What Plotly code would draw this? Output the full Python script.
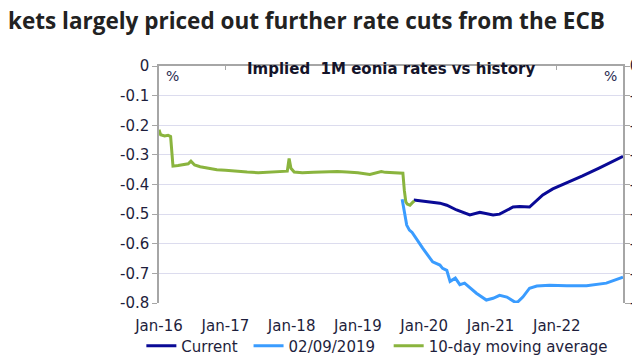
import plotly.graph_objects as go

# ---- data ----
hist_dates = ["2016-01-01", "2016-01-10", "2016-02-01", "2016-02-20", "2016-03-05", "2016-03-12",
              "2016-03-18", "2016-04-15", "2016-05-15", "2016-06-10", "2016-06-25", "2016-07-15",
              "2016-08-15", "2016-10-01", "2016-11-15", "2017-01-01", "2017-03-01", "2017-05-01",
              "2017-07-01", "2017-09-01", "2017-11-01", "2017-12-08", "2017-12-18", "2017-12-28",
              "2018-01-15", "2018-03-01", "2018-05-01", "2018-07-01", "2018-09-10", "2018-11-01",
              "2019-01-01", "2019-03-08", "2019-04-20", "2019-05-10", "2019-06-01", "2019-07-15",
              "2019-09-06", "2019-09-14", "2019-09-22", "2019-09-30", "2019-10-15", "2019-10-27",
              "2019-11-08"]
hist_vals = [-0.215, -0.232, -0.236, -0.234, -0.238, -0.300,
             -0.338, -0.336, -0.334, -0.330, -0.321, -0.334,
             -0.340, -0.346, -0.350, -0.352, -0.356, -0.358,
             -0.360, -0.358, -0.356, -0.355, -0.312, -0.345,
             -0.358, -0.360, -0.359, -0.357, -0.356, -0.358,
             -0.360, -0.366, -0.360, -0.356, -0.359, -0.360,
             -0.362, -0.420, -0.458, -0.466, -0.470, -0.462,
             -0.455]

prev_dates = ["2019-09-02", "2019-09-17", "2019-09-27", "2019-10-12", "2019-10-27", "2019-12-24",
              "2020-02-17", "2020-03-28", "2020-04-12", "2020-05-05", "2020-05-23", "2020-06-21",
              "2020-07-16", "2020-08-11", "2020-10-15", "2020-12-09", "2021-01-15", "2021-02-20",
              "2021-04-01", "2021-05-15", "2021-05-30", "2021-06-28", "2021-08-04", "2021-09-13",
              "2021-11-22", "2022-02-25", "2022-06-14", "2022-10-01", "2023-01-01"]
prev_vals = [-0.450, -0.509, -0.537, -0.554, -0.562, -0.615,
             -0.661, -0.672, -0.683, -0.690, -0.727, -0.716,
             -0.738, -0.733, -0.767, -0.790, -0.784, -0.774,
             -0.780, -0.797, -0.797, -0.780, -0.750, -0.743,
             -0.740, -0.742, -0.742, -0.733, -0.713]

cur_dates = ["2019-11-05", "2020-02-03", "2020-03-28", "2020-05-05", "2020-06-28", "2020-09-09",
             "2020-11-03", "2021-01-15", "2021-02-20", "2021-05-05", "2021-06-10", "2021-08-04",
             "2021-10-16", "2021-12-10", "2022-02-25", "2022-05-23", "2022-08-25", "2023-01-01"]
cur_vals = [-0.452, -0.458, -0.463, -0.470, -0.486, -0.503,
            -0.494, -0.503, -0.500, -0.476, -0.474, -0.476,
            -0.435, -0.415, -0.395, -0.371, -0.344, -0.305]

x_tick_vals = ["2016-01-01", "2017-01-01", "2018-01-01", "2019-01-01", "2020-01-01", "2021-01-01", "2022-01-01"]
x_tick_text = ["Jan-16", "Jan-17", "Jan-18", "Jan-19", "Jan-20", "Jan-21", "Jan-22"]
x_top_ticks = ["2017-01-01", "2018-01-01", "2019-01-01", "2020-01-01", "2021-01-01", "2022-01-01"]
y_tick_vals = [0, -0.1, -0.2, -0.3, -0.4, -0.5, -0.6, -0.7, -0.8]
y_tick_text = ["0", "-0.1", "-0.2", "-0.3", "-0.4", "-0.5", "-0.6", "-0.7", "-0.8"]

headline = "kets largely priced out further rate cuts from the ECB"
chart_title = "Implied  1M eonia rates vs history"

# ---- figure ----
fig = go.Figure()
fig.add_trace(go.Scatter(x=cur_dates, y=cur_vals, mode="lines", name="Current", legend="legend",
                         line=dict(color="#0a0a96", width=3)))
fig.add_trace(go.Scatter(x=prev_dates, y=prev_vals, mode="lines", name="02/09/2019", legend="legend2",
                         line=dict(color="#3a9cff", width=3)))
fig.add_trace(go.Scatter(x=hist_dates, y=hist_vals, mode="lines", name="10-day moving average",
                         legend="legend3", line=dict(color="#8ab43e", width=3)))

axis_col = "#a6a6a6"
tick_font = dict(family="DejaVu Sans", size=15, color="#1e1e3c")
leg_common = dict(orientation="h", y=-0.181, xanchor="left", yanchor="middle",
                  font=dict(family="DejaVu Sans", size=15, color="#1e1e3c"),
                  itemwidth=30, bgcolor="rgba(0,0,0,0)")

fig.update_layout(
    width=640, height=360,
    margin=dict(l=151, r=25, t=58, b=65, autoexpand=False),
    paper_bgcolor="white", plot_bgcolor="white",
    showlegend=True,
    legend=dict(x=-0.038, **leg_common),
    legend2=dict(x=0.193, **leg_common),
    legend3=dict(x=0.495, **leg_common),
    xaxis=dict(type="date", range=["2016-01-01", "2023-01-01"], tickmode="array",
               tickvals=x_tick_vals, ticktext=x_tick_text, showgrid=False, showline=False,
               zeroline=False, ticks="", tickfont=tick_font, ticklabelstandoff=12,
               automargin=False),
    xaxis2=dict(type="date", range=["2016-01-01", "2023-01-01"], overlaying="x", side="top",
                anchor="y", tickmode="array", tickvals=x_top_ticks, showticklabels=False,
                showgrid=False, showline=True, linecolor=axis_col, linewidth=1.5,
                ticks="inside", ticklen=4, tickcolor=axis_col, zeroline=False, automargin=False),
    yaxis=dict(range=[-0.8, 0], tickmode="array", tickvals=y_tick_vals, ticktext=y_tick_text,
               showgrid=True, gridcolor="#dcdcee", gridwidth=1, showline=True, linecolor=axis_col,
               linewidth=1.5, ticks="outside", ticklen=5, tickcolor=axis_col, zeroline=False,
               tickfont=tick_font, automargin=False),
    yaxis2=dict(range=[-0.8, 0], overlaying="y", side="right", anchor="x", tickmode="array",
                tickvals=y_tick_vals, ticktext=y_tick_text, showgrid=False, showline=True,
                linecolor=axis_col, linewidth=1.5, ticks="outside", ticklen=5, tickcolor=axis_col,
                zeroline=False, tickfont=tick_font, ticklabelstandoff=-3, automargin=False),
)

# invisible trace so the secondary axes render
fig.add_trace(go.Scatter(x=[cur_dates[0]], y=[cur_vals[0]], xaxis="x2", yaxis="y2",
                         mode="markers", marker=dict(opacity=0), showlegend=False, hoverinfo="skip"))

fig.add_annotation(text=chart_title, xref="paper", yref="paper", x=0.5, y=1.0,
                   yanchor="top", yshift=8, showarrow=False,
                   font=dict(family="DejaVu Sans", size=15, color="#14142a", weight="bold"))
fig.add_annotation(text="%", xref="paper", yref="paper", x=0.0, y=1.0, xanchor="left",
                   yanchor="top", xshift=5, yshift=0, showarrow=False,
                   font=dict(family="DejaVu Sans", size=14, color="#2a2a50"))
fig.add_annotation(text="%", xref="paper", yref="paper", x=1.0, y=1.0, xanchor="right",
                   yanchor="top", xshift=-4, yshift=0, showarrow=False,
                   font=dict(family="DejaVu Sans", size=14, color="#2a2a50"))
fig.add_annotation(text=headline, xref="paper", yref="paper", x=0, y=1, xanchor="left",
                   yanchor="middle", xshift=-153, yshift=46, showarrow=False,
                   font=dict(family="Open Sans", size=22.5, color="#222222", weight="bold"))

fig.write_html("out.html")
